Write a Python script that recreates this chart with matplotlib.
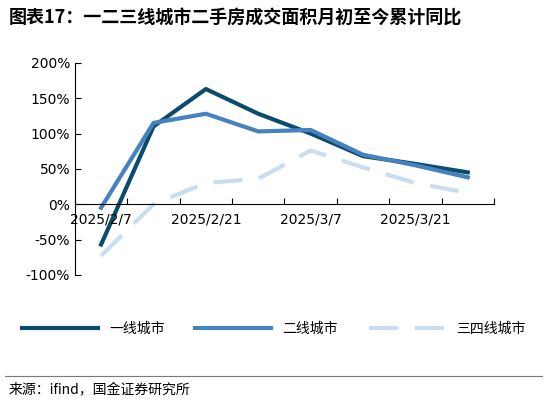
import matplotlib
matplotlib.use("Agg")
import matplotlib.pyplot as plt
from matplotlib.ticker import FuncFormatter

plt.rcParams['font.family'] = ['Noto Sans CJK SC', 'DejaVu Sans']

dates = ["2025/2/7", "2025/2/14", "2025/2/21", "2025/2/28",
         "2025/3/7", "2025/3/14", "2025/3/21", "2025/3/28"]
tier1 = [-57, 110, 163, 128, 100, 68, 57, 45]
tier2 = [-5, 115, 128, 103, 105, 70, 55, 38]
tier34 = [-73, 0, 30, 36, 76, 52, 30, 16]

fig = plt.figure(figsize=(5.47, 4.03), dpi=100)
ax = fig.add_axes([0.137, 0.318, 0.766, 0.526])

x = list(range(len(dates)))
ax.plot(x, tier1, color="#0b4c6e", lw=3, label="一线城市")
ax.plot(x, tier2, color="#4682c0", lw=3, label="二线城市")
ax.plot(x, tier34, color="#c9ddf0", lw=3, dashes=(7, 4), label="三四线城市")

ax.set_xlim(-0.5, len(dates) - 0.5)
ax.set_ylim(-100, 200)
ax.set_yticks(range(-100, 201, 50))
ax.yaxis.set_major_formatter(FuncFormatter(lambda v, p: f"{v:.0f}%"))
ax.set_xticks([i + 0.5 for i in range(-1, len(dates))])
ax.set_xticklabels([])
for i in range(0, len(dates), 2):
    ax.text(i, -12, dates[i], ha="center", va="top", fontsize=10,
            family="DejaVu Sans")
ax.tick_params(axis="x", length=4, direction="in")
ax.tick_params(axis="y", labelsize=10, length=4, direction="in")
ax.spines["top"].set_visible(False)
ax.spines["right"].set_visible(False)
ax.spines["bottom"].set_position(("data", 0))
for lab in ax.get_yticklabels():
    lab.set_family("DejaVu Sans")

fig.legend(loc="center", bbox_to_anchor=(0.5, 0.185), ncol=3, frameon=False,
           fontsize=10, handlelength=5.5, columnspacing=2.2)

fig.text(0.015, 0.955, "图表17：一二三线城市二手房成交面积月初至今累计同比",
         fontsize=13, fontweight="bold", style="italic", va="center")
fig.add_artist(plt.Line2D([0.01, 0.99], [0.068, 0.068], color="#7a7a7a", lw=0.8))
fig.text(0.015, 0.032, "来源：ifind，国金证券研究所", fontsize=10, va="center")

fig.savefig("out.png", dpi=100)
